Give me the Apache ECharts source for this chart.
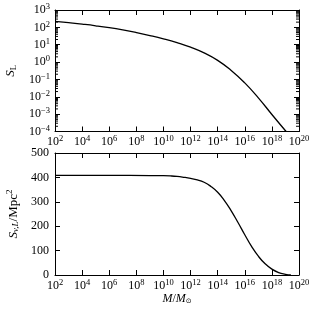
<!DOCTYPE html>
<html><head><meta charset="utf-8">
<script src="https://cdn.jsdelivr.net/npm/echarts@6/dist/echarts.min.js"></script>
<style>html,body{margin:0;padding:0;background:#fff}#c{width:315px;height:315px}</style>
</head><body><div id="c"></div>
<script>
// Top panel: S_L vs M (log10 of M in solar masses)
const topLogM = [2, 3, 4, 5, 6, 7, 8, 9, 10, 11, 12, 13, 14, 15, 16, 17, 18, 19.05];
const topS = [224, 186, 153, 123, 95.5, 70.8, 50.1, 33.9, 21.9, 13.2, 7.24, 3.39, 1.26, 0.331, 0.0631, 0.00871, 0.000955, 0.0001];
// Bottom panel: S_{v,L} / Mpc^2 vs M
const botLogM = [2, 6, 9, 10, 10.5, 11, 11.5, 12, 12.5, 13, 13.5, 14, 14.5, 15, 15.5, 16, 16.5, 17, 17.5, 18, 18.5, 19, 19.4];
const botS = [408, 408, 407.5, 407, 406, 404, 400.5, 396, 390, 380, 363, 339, 305, 263, 215, 165, 117, 77, 46, 24, 10, 3, 0];
// tick labels
const xExps = [2, 4, 6, 8, 10, 12, 14, 16, 18, 20];
const yTopExps = [-4, -3, -2, -1, 0, 1, 2, 3];
const yBotTicks = [0, 100, 200, 300, 400, 500];

const FONT = 'Liberation Serif';
const minorTicks = [];
for (let n = -4; n < 3; n++) for (let k = 2; k <= 9; k++) minorTicks.push(n + Math.log10(k));

const rich = {
  b: {fontFamily: FONT, fontSize: 12, color: '#000'},
  s: {fontFamily: FONT, fontSize: 8.5, color: '#000', padding: [0, 0, 6, 0]}
};
const expFmt = v => '{b|10}{s|' + String(Math.round(v)).replace('-', '\u2212') + '}';
const lineStyle = {color: '#000', width: 1};
const baseX = (gi, pos, labels) => ({
  type: 'value', gridIndex: gi, position: pos, min: 2, max: 20, interval: 2,
  axisLine: {show: true, onZero: false, lineStyle},
  axisTick: {show: true, inside: true, length: 5, lineStyle},
  axisLabel: labels ? {show: true, formatter: expFmt, rich, margin: 3} : {show: false},
  splitLine: {show: false}
});

const option = {
  animation: false,
  backgroundColor: '#fff',
  grid: [
    {left: 55, right: 16, top: 10, height: 121.5, outerBoundsMode: 'none', containLabel: false},
    {left: 55, right: 16, top: 153, height: 122, outerBoundsMode: 'none', containLabel: false}
  ],
  xAxis: [
    baseX(0, 'bottom', true),
    baseX(0, 'top', false),
    Object.assign(baseX(1, 'bottom', true), {
      name: '{i|M}{n|/}{i|M}{sub|\u2299}', nameLocation: 'middle', nameGap: 16,
      nameTextStyle: {rich: {
        i: {fontFamily: FONT, fontStyle: 'italic', fontSize: 12, color: '#000'},
        n: {fontFamily: FONT, fontSize: 12, color: '#000'},
        sub: {fontFamily: 'DejaVu Sans', fontSize: 7, color: '#000', padding: [5, 0, 0, 0]}
      }}
    }),
    baseX(1, 'top', false)
  ],
  yAxis: [
    {type: 'value', gridIndex: 0, position: 'left', min: -4, max: 3, interval: 1,
     axisLine: {show: true, onZero: false, lineStyle},
     axisTick: {show: true, inside: true, length: 5, lineStyle},
     axisLabel: {formatter: expFmt, rich, margin: 5},
     splitLine: {show: false},
     name: '{i|S}{sub|L}', nameLocation: 'middle', nameRotate: 90, nameGap: 36,
     nameTextStyle: {rich: {
       i: {fontFamily: FONT, fontStyle: 'italic', fontSize: 13, color: '#000'},
       sub: {fontFamily: FONT, fontSize: 9, color: '#000', padding: [5, 0, 0, 0]}
     }}},
    {type: 'value', gridIndex: 0, position: 'right', min: -4, max: 3, interval: 1,
     axisLine: {show: true, onZero: false, lineStyle},
     axisTick: {show: true, inside: true, length: 5, lineStyle},
     axisLabel: {show: false}, splitLine: {show: false}},
    {type: 'value', gridIndex: 1, position: 'left', min: 0, max: 500, interval: 100,
     axisLine: {show: true, onZero: false, lineStyle},
     axisTick: {show: true, inside: true, length: 5, lineStyle},
     axisLabel: {fontFamily: FONT, fontSize: 12, color: '#000', margin: 6},
     splitLine: {show: false},
     name: '{i|S}{sub|v,L}{n|/Mpc}{sup|2}', nameLocation: 'middle', nameRotate: 90, nameGap: 31,
     nameTextStyle: {rich: {
       i: {fontFamily: FONT, fontStyle: 'italic', fontSize: 13, color: '#000'},
       n: {fontFamily: FONT, fontSize: 13, color: '#000'},
       sub: {fontFamily: FONT, fontStyle: 'italic', fontSize: 9, color: '#000', padding: [5, 0, 0, 0]},
       sup: {fontFamily: FONT, fontSize: 9, color: '#000', padding: [0, 0, 7, 0]}
     }}},
    {type: 'value', gridIndex: 1, position: 'right', min: 0, max: 500, interval: 100,
     axisLine: {show: true, onZero: false, lineStyle},
     axisTick: {show: true, inside: true, length: 5, lineStyle},
     axisLabel: {show: false}, splitLine: {show: false}}
  ],
  series: [
    {type: 'line', xAxisIndex: 0, yAxisIndex: 0, showSymbol: false, smooth: 0.5,
     lineStyle: {color: '#000', width: 1.3},
     data: topLogM.map((m, i) => [m, Math.log10(topS[i])])},
    {type: 'line', xAxisIndex: 2, yAxisIndex: 2, showSymbol: false, smooth: 0.5,
     lineStyle: {color: '#000', width: 1.3},
     data: botLogM.map((m, i) => [m, botS[i]])},
    {type: 'custom', xAxisIndex: 0, yAxisIndex: 0, silent: true, clip: false,
     data: minorTicks.map(v => [2, v]),
     renderItem: (params, api) => {
       const y = api.coord([2, api.value(1)])[1];
       const cs = params.coordSys;
       return {type: 'group', children: [
         {type: 'line', shape: {x1: cs.x, y1: y, x2: cs.x + 3, y2: y}, style: {stroke: '#000', lineWidth: 1}},
         {type: 'line', shape: {x1: cs.x + cs.width - 3, y1: y, x2: cs.x + cs.width, y2: y}, style: {stroke: '#000', lineWidth: 1}}
       ]};
     }}
  ]
};
echarts.init(document.getElementById('c')).setOption(option);
</script></body></html>
